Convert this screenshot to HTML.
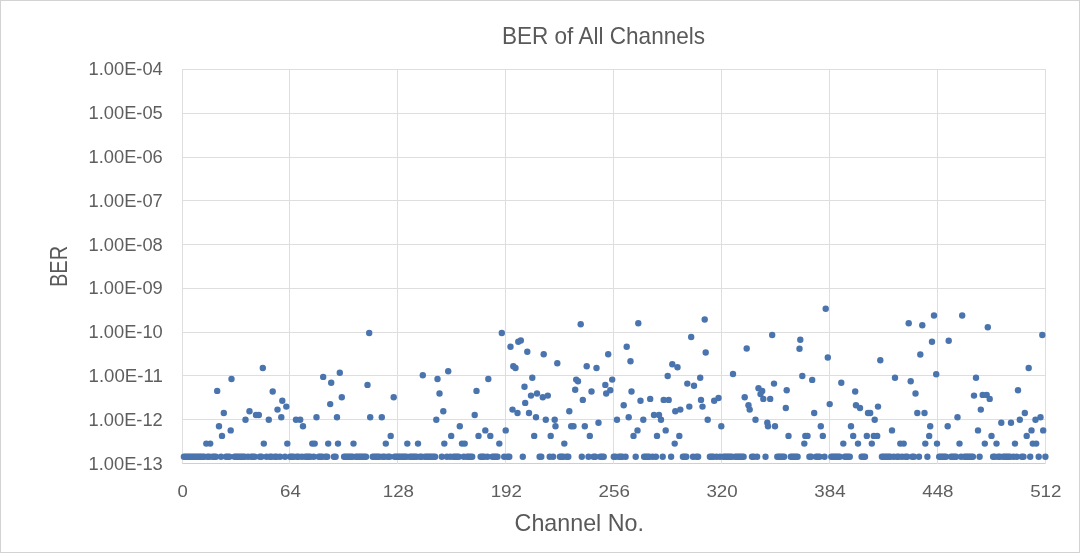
<!DOCTYPE html>
<html><head><meta charset="utf-8"><title>BER of All Channels</title>
<style>
html,body{margin:0;padding:0;background:#fff;}
body{width:1080px;height:553px;overflow:hidden;font-family:"Liberation Sans",sans-serif;}
</style></head><body>
<svg width="1080" height="553" viewBox="0 0 1080 553" style="display:block;will-change:transform">
<rect x="0" y="0" width="1080" height="553" fill="#ffffff"/>
<rect x="0.5" y="0.5" width="1079" height="552" fill="none" stroke="#d3d3d3" stroke-width="1"/>
<g stroke="#dedede" stroke-width="1" shape-rendering="crispEdges">
<line x1="182" y1="69.5" x2="1046" y2="69.5" stroke="#dedede"/>
<line x1="182" y1="113.5" x2="1046" y2="113.5" stroke="#dedede"/>
<line x1="182" y1="157.5" x2="1046" y2="157.5" stroke="#dedede"/>
<line x1="182" y1="200.5" x2="1046" y2="200.5" stroke="#dedede"/>
<line x1="182" y1="244.5" x2="1046" y2="244.5" stroke="#dedede"/>
<line x1="182" y1="288.5" x2="1046" y2="288.5" stroke="#dedede"/>
<line x1="182" y1="332.5" x2="1046" y2="332.5" stroke="#dedede"/>
<line x1="182" y1="375.5" x2="1046" y2="375.5" stroke="#dedede"/>
<line x1="182" y1="419.5" x2="1046" y2="419.5" stroke="#dedede"/>
<line x1="182" y1="463.5" x2="1046" y2="463.5" stroke="#cfcfcf"/>
<line x1="182.5" y1="69" x2="182.5" y2="464"/>
<line x1="289.5" y1="69" x2="289.5" y2="464"/>
<line x1="397.5" y1="69" x2="397.5" y2="464"/>
<line x1="505.5" y1="69" x2="505.5" y2="464"/>
<line x1="613.5" y1="69" x2="613.5" y2="464"/>
<line x1="721.5" y1="69" x2="721.5" y2="464"/>
<line x1="829.5" y1="69" x2="829.5" y2="464"/>
<line x1="937.5" y1="69" x2="937.5" y2="464"/>
<line x1="1045.5" y1="69" x2="1045.5" y2="464"/>
</g>
<g fill="#4a74ae">
<circle cx="183.9" cy="456.8" r="3.2"/>
<circle cx="185.6" cy="456.8" r="3.2"/>
<circle cx="187.3" cy="456.8" r="3.2"/>
<circle cx="188.9" cy="456.8" r="3.2"/>
<circle cx="190.6" cy="456.8" r="3.2"/>
<circle cx="192.3" cy="456.8" r="3.2"/>
<circle cx="194.0" cy="456.8" r="3.2"/>
<circle cx="195.7" cy="456.8" r="3.2"/>
<circle cx="197.4" cy="456.8" r="3.2"/>
<circle cx="199.1" cy="456.8" r="3.2"/>
<circle cx="200.7" cy="456.8" r="3.2"/>
<circle cx="202.4" cy="456.8" r="3.2"/>
<circle cx="204.1" cy="456.8" r="3.2"/>
<circle cx="206.3" cy="443.6" r="3.2"/>
<circle cx="207.5" cy="456.8" r="3.2"/>
<circle cx="209.2" cy="456.8" r="3.2"/>
<circle cx="210.2" cy="443.6" r="3.2"/>
<circle cx="212.5" cy="456.8" r="3.2"/>
<circle cx="214.2" cy="456.8" r="3.2"/>
<circle cx="215.9" cy="456.8" r="3.2"/>
<circle cx="217.2" cy="390.9" r="3.2"/>
<circle cx="219.0" cy="426.2" r="3.2"/>
<circle cx="221.0" cy="456.8" r="3.2"/>
<circle cx="222.0" cy="435.9" r="3.2"/>
<circle cx="223.8" cy="413.0" r="3.2"/>
<circle cx="226.0" cy="456.8" r="3.2"/>
<circle cx="227.7" cy="456.8" r="3.2"/>
<circle cx="229.4" cy="456.8" r="3.2"/>
<circle cx="230.7" cy="430.4" r="3.2"/>
<circle cx="231.5" cy="379.0" r="3.2"/>
<circle cx="234.5" cy="456.8" r="3.2"/>
<circle cx="236.1" cy="456.8" r="3.2"/>
<circle cx="237.8" cy="456.8" r="3.2"/>
<circle cx="239.5" cy="456.8" r="3.2"/>
<circle cx="241.2" cy="456.8" r="3.2"/>
<circle cx="242.9" cy="456.8" r="3.2"/>
<circle cx="244.6" cy="456.8" r="3.2"/>
<circle cx="245.5" cy="419.8" r="3.2"/>
<circle cx="248.0" cy="456.8" r="3.2"/>
<circle cx="249.5" cy="411.2" r="3.2"/>
<circle cx="251.3" cy="456.8" r="3.2"/>
<circle cx="253.0" cy="456.8" r="3.2"/>
<circle cx="254.7" cy="456.8" r="3.2"/>
<circle cx="256.0" cy="415.0" r="3.2"/>
<circle cx="258.8" cy="415.0" r="3.2"/>
<circle cx="259.8" cy="456.8" r="3.2"/>
<circle cx="261.4" cy="456.8" r="3.2"/>
<circle cx="262.8" cy="368.0" r="3.2"/>
<circle cx="263.8" cy="443.6" r="3.2"/>
<circle cx="266.5" cy="456.8" r="3.2"/>
<circle cx="268.8" cy="419.8" r="3.2"/>
<circle cx="269.9" cy="456.8" r="3.2"/>
<circle cx="271.6" cy="456.8" r="3.2"/>
<circle cx="272.7" cy="391.5" r="3.2"/>
<circle cx="274.9" cy="456.8" r="3.2"/>
<circle cx="276.6" cy="456.8" r="3.2"/>
<circle cx="277.5" cy="409.6" r="3.2"/>
<circle cx="280.0" cy="456.8" r="3.2"/>
<circle cx="281.3" cy="417.3" r="3.2"/>
<circle cx="282.3" cy="400.8" r="3.2"/>
<circle cx="285.0" cy="456.8" r="3.2"/>
<circle cx="286.3" cy="406.6" r="3.2"/>
<circle cx="287.3" cy="443.6" r="3.2"/>
<circle cx="290.1" cy="456.8" r="3.2"/>
<circle cx="291.8" cy="456.8" r="3.2"/>
<circle cx="293.5" cy="456.8" r="3.2"/>
<circle cx="296.0" cy="419.8" r="3.2"/>
<circle cx="296.8" cy="456.8" r="3.2"/>
<circle cx="298.5" cy="456.8" r="3.2"/>
<circle cx="300.2" cy="419.8" r="3.2"/>
<circle cx="301.9" cy="456.8" r="3.2"/>
<circle cx="303.0" cy="426.2" r="3.2"/>
<circle cx="305.3" cy="456.8" r="3.2"/>
<circle cx="307.0" cy="456.8" r="3.2"/>
<circle cx="308.6" cy="456.8" r="3.2"/>
<circle cx="310.3" cy="456.8" r="3.2"/>
<circle cx="312.3" cy="443.6" r="3.2"/>
<circle cx="313.7" cy="456.8" r="3.2"/>
<circle cx="314.7" cy="443.6" r="3.2"/>
<circle cx="316.5" cy="417.3" r="3.2"/>
<circle cx="318.8" cy="456.8" r="3.2"/>
<circle cx="320.4" cy="456.8" r="3.2"/>
<circle cx="322.1" cy="456.8" r="3.2"/>
<circle cx="323.2" cy="376.9" r="3.2"/>
<circle cx="325.5" cy="456.8" r="3.2"/>
<circle cx="327.2" cy="456.8" r="3.2"/>
<circle cx="328.2" cy="443.6" r="3.2"/>
<circle cx="330.2" cy="404.1" r="3.2"/>
<circle cx="331.2" cy="382.8" r="3.2"/>
<circle cx="333.9" cy="456.8" r="3.2"/>
<circle cx="335.6" cy="456.8" r="3.2"/>
<circle cx="337.0" cy="417.3" r="3.2"/>
<circle cx="338.0" cy="443.6" r="3.2"/>
<circle cx="339.8" cy="372.8" r="3.2"/>
<circle cx="341.8" cy="397.2" r="3.2"/>
<circle cx="344.1" cy="456.8" r="3.2"/>
<circle cx="345.7" cy="456.8" r="3.2"/>
<circle cx="347.4" cy="456.8" r="3.2"/>
<circle cx="349.1" cy="456.8" r="3.2"/>
<circle cx="350.8" cy="456.8" r="3.2"/>
<circle cx="352.5" cy="456.8" r="3.2"/>
<circle cx="353.5" cy="443.6" r="3.2"/>
<circle cx="355.9" cy="456.8" r="3.2"/>
<circle cx="357.5" cy="456.8" r="3.2"/>
<circle cx="359.2" cy="456.8" r="3.2"/>
<circle cx="360.9" cy="456.8" r="3.2"/>
<circle cx="362.6" cy="456.8" r="3.2"/>
<circle cx="364.3" cy="456.8" r="3.2"/>
<circle cx="366.0" cy="456.8" r="3.2"/>
<circle cx="367.5" cy="384.9" r="3.2"/>
<circle cx="369.2" cy="333.0" r="3.2"/>
<circle cx="370.2" cy="417.3" r="3.2"/>
<circle cx="372.7" cy="456.8" r="3.2"/>
<circle cx="374.4" cy="456.8" r="3.2"/>
<circle cx="376.1" cy="456.8" r="3.2"/>
<circle cx="377.8" cy="456.8" r="3.2"/>
<circle cx="379.5" cy="456.8" r="3.2"/>
<circle cx="381.8" cy="417.3" r="3.2"/>
<circle cx="382.8" cy="456.8" r="3.2"/>
<circle cx="384.5" cy="456.8" r="3.2"/>
<circle cx="385.8" cy="443.6" r="3.2"/>
<circle cx="387.9" cy="456.8" r="3.2"/>
<circle cx="389.6" cy="456.8" r="3.2"/>
<circle cx="390.7" cy="435.9" r="3.2"/>
<circle cx="393.7" cy="397.2" r="3.2"/>
<circle cx="394.6" cy="456.8" r="3.2"/>
<circle cx="396.3" cy="456.8" r="3.2"/>
<circle cx="398.0" cy="456.8" r="3.2"/>
<circle cx="399.7" cy="456.8" r="3.2"/>
<circle cx="401.4" cy="456.8" r="3.2"/>
<circle cx="403.1" cy="456.8" r="3.2"/>
<circle cx="404.7" cy="456.8" r="3.2"/>
<circle cx="406.4" cy="456.8" r="3.2"/>
<circle cx="407.3" cy="443.6" r="3.2"/>
<circle cx="409.8" cy="456.8" r="3.2"/>
<circle cx="411.5" cy="456.8" r="3.2"/>
<circle cx="413.2" cy="456.8" r="3.2"/>
<circle cx="414.9" cy="456.8" r="3.2"/>
<circle cx="416.5" cy="456.8" r="3.2"/>
<circle cx="418.0" cy="443.6" r="3.2"/>
<circle cx="419.9" cy="456.8" r="3.2"/>
<circle cx="421.6" cy="456.8" r="3.2"/>
<circle cx="422.8" cy="375.2" r="3.2"/>
<circle cx="425.0" cy="456.8" r="3.2"/>
<circle cx="426.7" cy="456.8" r="3.2"/>
<circle cx="428.3" cy="456.8" r="3.2"/>
<circle cx="430.0" cy="456.8" r="3.2"/>
<circle cx="431.7" cy="456.8" r="3.2"/>
<circle cx="433.4" cy="456.8" r="3.2"/>
<circle cx="435.1" cy="456.8" r="3.2"/>
<circle cx="436.3" cy="419.8" r="3.2"/>
<circle cx="437.5" cy="379.0" r="3.2"/>
<circle cx="439.5" cy="393.5" r="3.2"/>
<circle cx="441.8" cy="456.8" r="3.2"/>
<circle cx="443.3" cy="411.2" r="3.2"/>
<circle cx="444.3" cy="443.6" r="3.2"/>
<circle cx="446.9" cy="456.8" r="3.2"/>
<circle cx="448.2" cy="371.3" r="3.2"/>
<circle cx="450.3" cy="456.8" r="3.2"/>
<circle cx="451.2" cy="435.9" r="3.2"/>
<circle cx="453.6" cy="456.8" r="3.2"/>
<circle cx="455.3" cy="456.8" r="3.2"/>
<circle cx="457.0" cy="456.8" r="3.2"/>
<circle cx="458.7" cy="456.8" r="3.2"/>
<circle cx="459.8" cy="426.2" r="3.2"/>
<circle cx="462.0" cy="443.6" r="3.2"/>
<circle cx="463.8" cy="456.8" r="3.2"/>
<circle cx="464.7" cy="443.6" r="3.2"/>
<circle cx="467.1" cy="456.8" r="3.2"/>
<circle cx="468.8" cy="456.8" r="3.2"/>
<circle cx="470.5" cy="456.8" r="3.2"/>
<circle cx="472.2" cy="456.8" r="3.2"/>
<circle cx="474.7" cy="415.0" r="3.2"/>
<circle cx="476.5" cy="390.9" r="3.2"/>
<circle cx="478.5" cy="435.9" r="3.2"/>
<circle cx="480.6" cy="456.8" r="3.2"/>
<circle cx="482.3" cy="456.8" r="3.2"/>
<circle cx="484.0" cy="456.8" r="3.2"/>
<circle cx="485.3" cy="430.4" r="3.2"/>
<circle cx="487.4" cy="456.8" r="3.2"/>
<circle cx="488.3" cy="379.0" r="3.2"/>
<circle cx="490.3" cy="435.9" r="3.2"/>
<circle cx="492.4" cy="456.8" r="3.2"/>
<circle cx="494.1" cy="456.8" r="3.2"/>
<circle cx="495.8" cy="456.8" r="3.2"/>
<circle cx="497.5" cy="456.8" r="3.2"/>
<circle cx="499.3" cy="443.6" r="3.2"/>
<circle cx="501.8" cy="333.0" r="3.2"/>
<circle cx="504.2" cy="456.8" r="3.2"/>
<circle cx="505.7" cy="430.4" r="3.2"/>
<circle cx="507.6" cy="456.8" r="3.2"/>
<circle cx="509.3" cy="456.8" r="3.2"/>
<circle cx="510.5" cy="346.7" r="3.2"/>
<circle cx="512.5" cy="409.6" r="3.2"/>
<circle cx="513.3" cy="366.3" r="3.2"/>
<circle cx="515.5" cy="368.0" r="3.2"/>
<circle cx="517.5" cy="413.0" r="3.2"/>
<circle cx="518.3" cy="341.7" r="3.2"/>
<circle cx="520.8" cy="340.5" r="3.2"/>
<circle cx="522.8" cy="456.8" r="3.2"/>
<circle cx="524.5" cy="386.7" r="3.2"/>
<circle cx="525.2" cy="402.9" r="3.2"/>
<circle cx="527.3" cy="351.7" r="3.2"/>
<circle cx="529.0" cy="413.0" r="3.2"/>
<circle cx="531.0" cy="395.6" r="3.2"/>
<circle cx="532.3" cy="377.7" r="3.2"/>
<circle cx="534.2" cy="435.9" r="3.2"/>
<circle cx="536.0" cy="417.3" r="3.2"/>
<circle cx="537.0" cy="393.5" r="3.2"/>
<circle cx="539.6" cy="456.8" r="3.2"/>
<circle cx="541.3" cy="456.8" r="3.2"/>
<circle cx="542.8" cy="397.2" r="3.2"/>
<circle cx="543.7" cy="354.3" r="3.2"/>
<circle cx="545.8" cy="419.8" r="3.2"/>
<circle cx="547.8" cy="395.6" r="3.2"/>
<circle cx="549.7" cy="456.8" r="3.2"/>
<circle cx="550.7" cy="435.9" r="3.2"/>
<circle cx="553.1" cy="456.8" r="3.2"/>
<circle cx="554.7" cy="419.8" r="3.2"/>
<circle cx="555.5" cy="426.2" r="3.2"/>
<circle cx="557.3" cy="363.3" r="3.2"/>
<circle cx="559.9" cy="456.8" r="3.2"/>
<circle cx="561.5" cy="456.8" r="3.2"/>
<circle cx="563.2" cy="456.8" r="3.2"/>
<circle cx="564.3" cy="443.6" r="3.2"/>
<circle cx="566.6" cy="456.8" r="3.2"/>
<circle cx="568.3" cy="456.8" r="3.2"/>
<circle cx="569.3" cy="411.2" r="3.2"/>
<circle cx="571.2" cy="426.2" r="3.2"/>
<circle cx="573.5" cy="426.2" r="3.2"/>
<circle cx="575.2" cy="389.8" r="3.2"/>
<circle cx="576.2" cy="379.6" r="3.2"/>
<circle cx="578.0" cy="381.3" r="3.2"/>
<circle cx="580.7" cy="324.2" r="3.2"/>
<circle cx="581.8" cy="456.8" r="3.2"/>
<circle cx="582.8" cy="399.9" r="3.2"/>
<circle cx="584.8" cy="426.2" r="3.2"/>
<circle cx="586.7" cy="366.3" r="3.2"/>
<circle cx="588.5" cy="456.8" r="3.2"/>
<circle cx="589.8" cy="435.9" r="3.2"/>
<circle cx="591.5" cy="391.5" r="3.2"/>
<circle cx="593.6" cy="456.8" r="3.2"/>
<circle cx="595.3" cy="456.8" r="3.2"/>
<circle cx="596.5" cy="368.0" r="3.2"/>
<circle cx="598.5" cy="422.7" r="3.2"/>
<circle cx="600.3" cy="456.8" r="3.2"/>
<circle cx="602.0" cy="456.8" r="3.2"/>
<circle cx="603.7" cy="456.8" r="3.2"/>
<circle cx="605.3" cy="384.9" r="3.2"/>
<circle cx="606.2" cy="393.5" r="3.2"/>
<circle cx="608.2" cy="354.3" r="3.2"/>
<circle cx="610.3" cy="390.3" r="3.2"/>
<circle cx="612.2" cy="379.6" r="3.2"/>
<circle cx="613.8" cy="456.8" r="3.2"/>
<circle cx="615.5" cy="456.8" r="3.2"/>
<circle cx="617.0" cy="419.8" r="3.2"/>
<circle cx="618.9" cy="456.8" r="3.2"/>
<circle cx="620.5" cy="456.8" r="3.2"/>
<circle cx="622.2" cy="456.8" r="3.2"/>
<circle cx="623.7" cy="405.3" r="3.2"/>
<circle cx="625.6" cy="456.8" r="3.2"/>
<circle cx="626.7" cy="346.7" r="3.2"/>
<circle cx="628.7" cy="417.3" r="3.2"/>
<circle cx="630.5" cy="361.3" r="3.2"/>
<circle cx="631.5" cy="391.5" r="3.2"/>
<circle cx="633.5" cy="435.9" r="3.2"/>
<circle cx="635.7" cy="456.8" r="3.2"/>
<circle cx="637.5" cy="430.4" r="3.2"/>
<circle cx="638.3" cy="323.3" r="3.2"/>
<circle cx="640.5" cy="400.8" r="3.2"/>
<circle cx="643.3" cy="419.8" r="3.2"/>
<circle cx="644.1" cy="456.8" r="3.2"/>
<circle cx="645.8" cy="456.8" r="3.2"/>
<circle cx="647.5" cy="456.8" r="3.2"/>
<circle cx="649.2" cy="456.8" r="3.2"/>
<circle cx="650.2" cy="398.9" r="3.2"/>
<circle cx="652.6" cy="456.8" r="3.2"/>
<circle cx="654.0" cy="415.0" r="3.2"/>
<circle cx="655.9" cy="456.8" r="3.2"/>
<circle cx="657.0" cy="435.9" r="3.2"/>
<circle cx="659.0" cy="415.0" r="3.2"/>
<circle cx="661.0" cy="419.8" r="3.2"/>
<circle cx="662.7" cy="456.8" r="3.2"/>
<circle cx="663.7" cy="399.9" r="3.2"/>
<circle cx="665.7" cy="430.4" r="3.2"/>
<circle cx="667.7" cy="376.0" r="3.2"/>
<circle cx="668.7" cy="399.9" r="3.2"/>
<circle cx="671.1" cy="456.8" r="3.2"/>
<circle cx="672.3" cy="364.3" r="3.2"/>
<circle cx="674.7" cy="443.6" r="3.2"/>
<circle cx="675.3" cy="411.2" r="3.2"/>
<circle cx="677.5" cy="367.3" r="3.2"/>
<circle cx="679.3" cy="435.9" r="3.2"/>
<circle cx="680.3" cy="409.6" r="3.2"/>
<circle cx="682.9" cy="456.8" r="3.2"/>
<circle cx="684.6" cy="456.8" r="3.2"/>
<circle cx="686.3" cy="456.8" r="3.2"/>
<circle cx="687.3" cy="383.6" r="3.2"/>
<circle cx="689.3" cy="406.6" r="3.2"/>
<circle cx="691.2" cy="337.0" r="3.2"/>
<circle cx="693.0" cy="456.8" r="3.2"/>
<circle cx="694.0" cy="385.8" r="3.2"/>
<circle cx="696.4" cy="456.8" r="3.2"/>
<circle cx="698.1" cy="456.8" r="3.2"/>
<circle cx="700.2" cy="377.7" r="3.2"/>
<circle cx="701.0" cy="399.9" r="3.2"/>
<circle cx="702.5" cy="406.6" r="3.2"/>
<circle cx="704.7" cy="319.5" r="3.2"/>
<circle cx="705.7" cy="352.5" r="3.2"/>
<circle cx="707.7" cy="419.8" r="3.2"/>
<circle cx="709.9" cy="456.8" r="3.2"/>
<circle cx="711.6" cy="456.8" r="3.2"/>
<circle cx="713.3" cy="456.8" r="3.2"/>
<circle cx="714.2" cy="400.8" r="3.2"/>
<circle cx="716.6" cy="456.8" r="3.2"/>
<circle cx="718.5" cy="398.0" r="3.2"/>
<circle cx="720.0" cy="456.8" r="3.2"/>
<circle cx="721.3" cy="426.2" r="3.2"/>
<circle cx="723.4" cy="456.8" r="3.2"/>
<circle cx="725.1" cy="456.8" r="3.2"/>
<circle cx="726.8" cy="456.8" r="3.2"/>
<circle cx="728.4" cy="456.8" r="3.2"/>
<circle cx="730.1" cy="456.8" r="3.2"/>
<circle cx="731.8" cy="456.8" r="3.2"/>
<circle cx="733.0" cy="374.0" r="3.2"/>
<circle cx="735.2" cy="456.8" r="3.2"/>
<circle cx="736.9" cy="456.8" r="3.2"/>
<circle cx="738.6" cy="456.8" r="3.2"/>
<circle cx="740.2" cy="456.8" r="3.2"/>
<circle cx="741.9" cy="456.8" r="3.2"/>
<circle cx="743.6" cy="456.8" r="3.2"/>
<circle cx="744.7" cy="397.2" r="3.2"/>
<circle cx="746.7" cy="348.5" r="3.2"/>
<circle cx="748.5" cy="405.3" r="3.2"/>
<circle cx="749.7" cy="409.6" r="3.2"/>
<circle cx="752.0" cy="456.8" r="3.2"/>
<circle cx="753.7" cy="456.8" r="3.2"/>
<circle cx="755.5" cy="419.8" r="3.2"/>
<circle cx="757.1" cy="456.8" r="3.2"/>
<circle cx="758.5" cy="388.2" r="3.2"/>
<circle cx="760.5" cy="394.1" r="3.2"/>
<circle cx="762.2" cy="390.9" r="3.2"/>
<circle cx="763.3" cy="398.9" r="3.2"/>
<circle cx="765.5" cy="456.8" r="3.2"/>
<circle cx="767.3" cy="422.7" r="3.2"/>
<circle cx="768.0" cy="426.2" r="3.2"/>
<circle cx="770.2" cy="398.9" r="3.2"/>
<circle cx="772.2" cy="335.0" r="3.2"/>
<circle cx="774.0" cy="383.6" r="3.2"/>
<circle cx="775.0" cy="426.2" r="3.2"/>
<circle cx="777.3" cy="456.8" r="3.2"/>
<circle cx="779.0" cy="456.8" r="3.2"/>
<circle cx="780.7" cy="456.8" r="3.2"/>
<circle cx="782.4" cy="456.8" r="3.2"/>
<circle cx="784.1" cy="456.8" r="3.2"/>
<circle cx="785.8" cy="408.0" r="3.2"/>
<circle cx="786.7" cy="390.3" r="3.2"/>
<circle cx="788.5" cy="435.9" r="3.2"/>
<circle cx="790.8" cy="456.8" r="3.2"/>
<circle cx="792.5" cy="456.8" r="3.2"/>
<circle cx="794.2" cy="456.8" r="3.2"/>
<circle cx="795.9" cy="456.8" r="3.2"/>
<circle cx="797.6" cy="456.8" r="3.2"/>
<circle cx="799.5" cy="348.7" r="3.2"/>
<circle cx="800.3" cy="339.7" r="3.2"/>
<circle cx="802.3" cy="376.0" r="3.2"/>
<circle cx="804.3" cy="443.6" r="3.2"/>
<circle cx="805.3" cy="435.9" r="3.2"/>
<circle cx="807.5" cy="435.9" r="3.2"/>
<circle cx="809.4" cy="456.8" r="3.2"/>
<circle cx="811.1" cy="456.8" r="3.2"/>
<circle cx="812.2" cy="379.9" r="3.2"/>
<circle cx="814.2" cy="413.0" r="3.2"/>
<circle cx="816.1" cy="456.8" r="3.2"/>
<circle cx="817.8" cy="456.8" r="3.2"/>
<circle cx="819.5" cy="456.8" r="3.2"/>
<circle cx="820.8" cy="426.2" r="3.2"/>
<circle cx="822.8" cy="435.9" r="3.2"/>
<circle cx="824.5" cy="456.8" r="3.2"/>
<circle cx="825.7" cy="308.7" r="3.2"/>
<circle cx="827.8" cy="357.5" r="3.2"/>
<circle cx="829.7" cy="404.1" r="3.2"/>
<circle cx="831.3" cy="456.8" r="3.2"/>
<circle cx="833.0" cy="456.8" r="3.2"/>
<circle cx="834.7" cy="456.8" r="3.2"/>
<circle cx="836.3" cy="456.8" r="3.2"/>
<circle cx="838.0" cy="456.8" r="3.2"/>
<circle cx="839.7" cy="456.8" r="3.2"/>
<circle cx="841.3" cy="382.8" r="3.2"/>
<circle cx="843.3" cy="443.6" r="3.2"/>
<circle cx="844.8" cy="456.8" r="3.2"/>
<circle cx="846.5" cy="456.8" r="3.2"/>
<circle cx="848.1" cy="456.8" r="3.2"/>
<circle cx="849.8" cy="456.8" r="3.2"/>
<circle cx="851.0" cy="426.2" r="3.2"/>
<circle cx="853.2" cy="435.9" r="3.2"/>
<circle cx="855.2" cy="391.5" r="3.2"/>
<circle cx="856.0" cy="405.3" r="3.2"/>
<circle cx="858.0" cy="443.6" r="3.2"/>
<circle cx="860.0" cy="408.0" r="3.2"/>
<circle cx="861.6" cy="456.8" r="3.2"/>
<circle cx="863.3" cy="456.8" r="3.2"/>
<circle cx="865.0" cy="456.8" r="3.2"/>
<circle cx="866.8" cy="435.9" r="3.2"/>
<circle cx="868.0" cy="413.0" r="3.2"/>
<circle cx="870.2" cy="413.0" r="3.2"/>
<circle cx="871.8" cy="443.6" r="3.2"/>
<circle cx="873.8" cy="435.9" r="3.2"/>
<circle cx="874.7" cy="419.8" r="3.2"/>
<circle cx="877.2" cy="435.9" r="3.2"/>
<circle cx="878.0" cy="406.6" r="3.2"/>
<circle cx="880.3" cy="360.3" r="3.2"/>
<circle cx="881.9" cy="456.8" r="3.2"/>
<circle cx="883.5" cy="456.8" r="3.2"/>
<circle cx="885.2" cy="456.8" r="3.2"/>
<circle cx="886.9" cy="456.8" r="3.2"/>
<circle cx="888.6" cy="456.8" r="3.2"/>
<circle cx="890.3" cy="456.8" r="3.2"/>
<circle cx="892.0" cy="430.4" r="3.2"/>
<circle cx="893.7" cy="456.8" r="3.2"/>
<circle cx="895.0" cy="377.7" r="3.2"/>
<circle cx="897.0" cy="456.8" r="3.2"/>
<circle cx="898.7" cy="456.8" r="3.2"/>
<circle cx="900.3" cy="443.6" r="3.2"/>
<circle cx="902.1" cy="456.8" r="3.2"/>
<circle cx="903.7" cy="443.6" r="3.2"/>
<circle cx="905.5" cy="456.8" r="3.2"/>
<circle cx="907.2" cy="456.8" r="3.2"/>
<circle cx="908.7" cy="323.3" r="3.2"/>
<circle cx="910.7" cy="381.3" r="3.2"/>
<circle cx="912.2" cy="456.8" r="3.2"/>
<circle cx="913.9" cy="456.8" r="3.2"/>
<circle cx="915.5" cy="393.5" r="3.2"/>
<circle cx="917.3" cy="413.0" r="3.2"/>
<circle cx="919.0" cy="456.8" r="3.2"/>
<circle cx="920.3" cy="354.5" r="3.2"/>
<circle cx="922.3" cy="325.2" r="3.2"/>
<circle cx="924.5" cy="413.0" r="3.2"/>
<circle cx="925.3" cy="443.6" r="3.2"/>
<circle cx="927.4" cy="456.8" r="3.2"/>
<circle cx="929.2" cy="435.9" r="3.2"/>
<circle cx="930.2" cy="426.2" r="3.2"/>
<circle cx="932.0" cy="341.8" r="3.2"/>
<circle cx="934.0" cy="315.5" r="3.2"/>
<circle cx="936.2" cy="374.2" r="3.2"/>
<circle cx="937.0" cy="443.6" r="3.2"/>
<circle cx="939.2" cy="456.8" r="3.2"/>
<circle cx="940.9" cy="456.8" r="3.2"/>
<circle cx="942.6" cy="456.8" r="3.2"/>
<circle cx="944.2" cy="456.8" r="3.2"/>
<circle cx="945.9" cy="456.8" r="3.2"/>
<circle cx="947.7" cy="426.2" r="3.2"/>
<circle cx="948.7" cy="340.8" r="3.2"/>
<circle cx="951.0" cy="456.8" r="3.2"/>
<circle cx="952.7" cy="456.8" r="3.2"/>
<circle cx="954.4" cy="456.8" r="3.2"/>
<circle cx="956.0" cy="456.8" r="3.2"/>
<circle cx="957.5" cy="417.3" r="3.2"/>
<circle cx="959.5" cy="443.6" r="3.2"/>
<circle cx="961.1" cy="456.8" r="3.2"/>
<circle cx="962.2" cy="315.5" r="3.2"/>
<circle cx="964.5" cy="456.8" r="3.2"/>
<circle cx="966.2" cy="456.8" r="3.2"/>
<circle cx="967.8" cy="456.8" r="3.2"/>
<circle cx="969.5" cy="456.8" r="3.2"/>
<circle cx="971.2" cy="456.8" r="3.2"/>
<circle cx="972.9" cy="456.8" r="3.2"/>
<circle cx="974.0" cy="395.6" r="3.2"/>
<circle cx="976.0" cy="377.7" r="3.2"/>
<circle cx="978.0" cy="430.4" r="3.2"/>
<circle cx="979.6" cy="456.8" r="3.2"/>
<circle cx="980.8" cy="409.6" r="3.2"/>
<circle cx="982.7" cy="394.9" r="3.2"/>
<circle cx="984.8" cy="443.6" r="3.2"/>
<circle cx="986.7" cy="394.9" r="3.2"/>
<circle cx="987.8" cy="327.2" r="3.2"/>
<circle cx="989.7" cy="398.9" r="3.2"/>
<circle cx="991.5" cy="435.9" r="3.2"/>
<circle cx="993.1" cy="456.8" r="3.2"/>
<circle cx="994.8" cy="456.8" r="3.2"/>
<circle cx="996.5" cy="443.6" r="3.2"/>
<circle cx="998.2" cy="456.8" r="3.2"/>
<circle cx="999.9" cy="456.8" r="3.2"/>
<circle cx="1001.3" cy="422.7" r="3.2"/>
<circle cx="1003.3" cy="456.8" r="3.2"/>
<circle cx="1004.9" cy="456.8" r="3.2"/>
<circle cx="1006.6" cy="456.8" r="3.2"/>
<circle cx="1008.3" cy="456.8" r="3.2"/>
<circle cx="1010.0" cy="456.8" r="3.2"/>
<circle cx="1011.0" cy="422.7" r="3.2"/>
<circle cx="1013.4" cy="456.8" r="3.2"/>
<circle cx="1015.0" cy="443.6" r="3.2"/>
<circle cx="1016.7" cy="456.8" r="3.2"/>
<circle cx="1018.0" cy="390.3" r="3.2"/>
<circle cx="1019.8" cy="419.8" r="3.2"/>
<circle cx="1021.8" cy="456.8" r="3.2"/>
<circle cx="1023.5" cy="456.8" r="3.2"/>
<circle cx="1024.8" cy="413.0" r="3.2"/>
<circle cx="1026.7" cy="435.9" r="3.2"/>
<circle cx="1028.7" cy="368.0" r="3.2"/>
<circle cx="1030.2" cy="456.8" r="3.2"/>
<circle cx="1031.5" cy="430.4" r="3.2"/>
<circle cx="1032.8" cy="443.6" r="3.2"/>
<circle cx="1035.5" cy="419.8" r="3.2"/>
<circle cx="1036.2" cy="443.6" r="3.2"/>
<circle cx="1038.7" cy="456.8" r="3.2"/>
<circle cx="1040.5" cy="417.3" r="3.2"/>
<circle cx="1042.3" cy="335.0" r="3.2"/>
<circle cx="1043.2" cy="430.4" r="3.2"/>
<circle cx="1045.4" cy="456.8" r="3.2"/>
</g>
<g font-family="Liberation Sans, sans-serif" fill="#5e5e5e">
<text x="603.5" y="43.8" font-size="23.6" fill="#595959" text-anchor="middle" textLength="203.2" lengthAdjust="spacingAndGlyphs">BER of All Channels</text>
<text x="162.8" y="74.9" font-size="17.5" text-anchor="end" textLength="74.2" lengthAdjust="spacingAndGlyphs">1.00E-04</text>
<text x="162.8" y="118.8" font-size="17.5" text-anchor="end" textLength="74.2" lengthAdjust="spacingAndGlyphs">1.00E-05</text>
<text x="162.8" y="162.7" font-size="17.5" text-anchor="end" textLength="74.2" lengthAdjust="spacingAndGlyphs">1.00E-06</text>
<text x="162.8" y="206.6" font-size="17.5" text-anchor="end" textLength="74.2" lengthAdjust="spacingAndGlyphs">1.00E-07</text>
<text x="162.8" y="250.5" font-size="17.5" text-anchor="end" textLength="74.2" lengthAdjust="spacingAndGlyphs">1.00E-08</text>
<text x="162.8" y="294.4" font-size="17.5" text-anchor="end" textLength="74.2" lengthAdjust="spacingAndGlyphs">1.00E-09</text>
<text x="162.8" y="338.4" font-size="17.5" text-anchor="end" textLength="74.2" lengthAdjust="spacingAndGlyphs">1.00E-10</text>
<text x="162.8" y="382.3" font-size="17.5" text-anchor="end" textLength="74.2" lengthAdjust="spacingAndGlyphs">1.00E-11</text>
<text x="162.8" y="426.2" font-size="17.5" text-anchor="end" textLength="74.2" lengthAdjust="spacingAndGlyphs">1.00E-12</text>
<text x="162.8" y="470.1" font-size="17.5" text-anchor="end" textLength="74.2" lengthAdjust="spacingAndGlyphs">1.00E-13</text>
<text x="182.6" y="496.6" font-size="17.2" text-anchor="middle" textLength="10.3" lengthAdjust="spacingAndGlyphs">0</text>
<text x="290.5" y="496.6" font-size="17.2" text-anchor="middle" textLength="20.8" lengthAdjust="spacingAndGlyphs">64</text>
<text x="398.4" y="496.6" font-size="17.2" text-anchor="middle" textLength="31.3" lengthAdjust="spacingAndGlyphs">128</text>
<text x="506.3" y="496.6" font-size="17.2" text-anchor="middle" textLength="31.3" lengthAdjust="spacingAndGlyphs">192</text>
<text x="614.2" y="496.6" font-size="17.2" text-anchor="middle" textLength="31.3" lengthAdjust="spacingAndGlyphs">256</text>
<text x="722.1" y="496.6" font-size="17.2" text-anchor="middle" textLength="31.3" lengthAdjust="spacingAndGlyphs">320</text>
<text x="830.0" y="496.6" font-size="17.2" text-anchor="middle" textLength="31.3" lengthAdjust="spacingAndGlyphs">384</text>
<text x="937.9" y="496.6" font-size="17.2" text-anchor="middle" textLength="31.3" lengthAdjust="spacingAndGlyphs">448</text>
<text x="1045.8" y="496.6" font-size="17.2" text-anchor="middle" textLength="31.3" lengthAdjust="spacingAndGlyphs">512</text>
<text x="579.3" y="531.1" font-size="23.6" fill="#595959" text-anchor="middle" textLength="129.4" lengthAdjust="spacingAndGlyphs">Channel No.</text>
<text transform="translate(67.0,266.4) rotate(-90)" x="0" y="0" font-size="23.5" fill="#595959" text-anchor="middle" textLength="41.2" lengthAdjust="spacingAndGlyphs">BER</text>
</g>
</svg>
</body></html>
